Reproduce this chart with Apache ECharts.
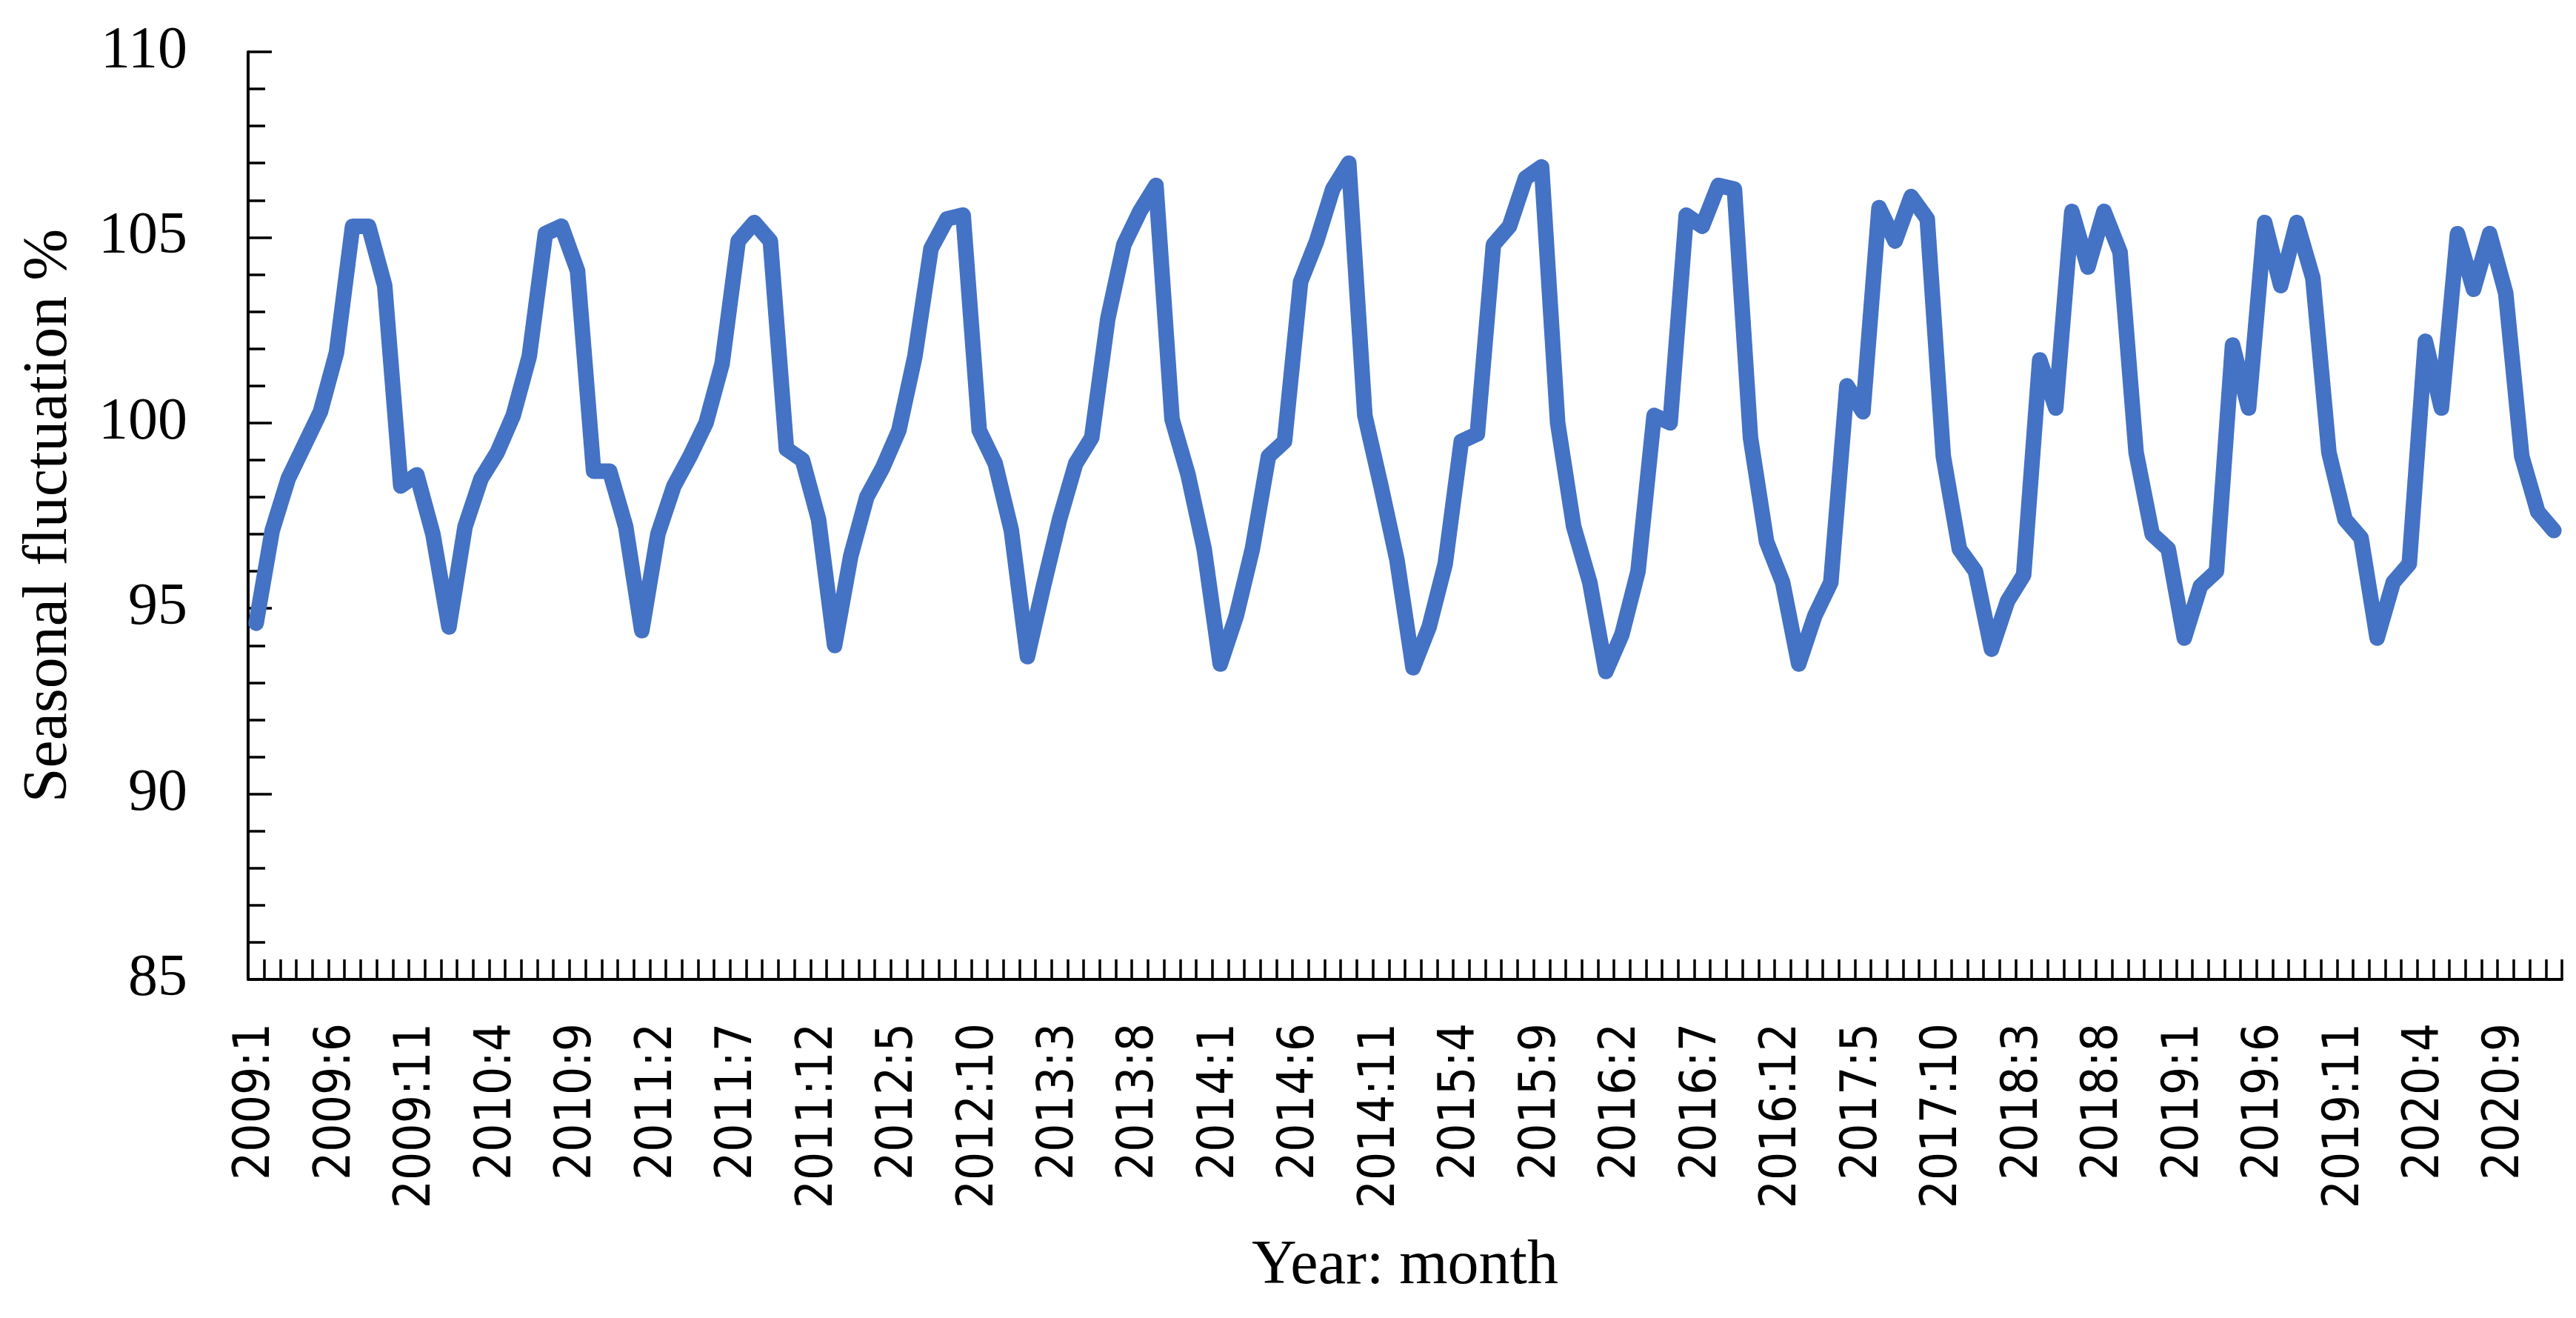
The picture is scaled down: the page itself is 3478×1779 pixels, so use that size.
<!DOCTYPE html>
<html>
<head>
<meta charset="utf-8">
<script src="https://cdn.jsdelivr.net/npm/echarts@6/dist/echarts.min.js"></script>
<style>
  html, body { margin: 0; padding: 0; background: #ffffff; }
  #chart { width: 3478px; height: 1779px; }
</style>
</head>
<body>
<div id="chart"></div>
<script>
// Monthly seasonal fluctuation (%)
const years = [2009, 2010, 2011, 2012, 2013, 2014, 2015, 2016, 2017, 2018, 2019, 2020];
const months = [1, 2, 3, 4, 5, 6, 7, 8, 9, 10, 11, 12];

const v2009 = [94.6, 97.1, 98.5, 99.4, 100.3, 101.9, 105.3, 105.3, 103.7, 98.3, 98.6, 97.0];
const v2010 = [94.5, 97.2, 98.5, 99.2, 100.2, 101.8, 105.1, 105.3, 104.1, 98.7, 98.7, 97.2];
const v2011 = [94.4, 97.0, 98.3, 99.1, 100.0, 101.6, 104.9, 105.4, 104.9, 99.3, 99.0, 97.4];
const v2012 = [94.0, 96.4, 98.0, 98.8, 99.8, 101.8, 104.7, 105.5, 105.6, 99.8, 98.9, 97.1];
const v2013 = [93.7, 95.6, 97.4, 98.9, 99.6, 102.8, 104.8, 105.7, 106.4, 100.1, 98.6, 96.6];
const v2014 = [93.5, 94.8, 96.6, 99.1, 99.5, 103.8, 104.9, 106.3, 107.0, 100.2, 98.3, 96.3];
const v2015 = [93.4, 94.5, 96.2, 99.5, 99.7, 104.8, 105.3, 106.6, 106.9, 100.0, 97.2, 95.7];
const v2016 = [93.3, 94.3, 96.0, 100.2, 100.0, 105.6, 105.3, 106.4, 106.3, 99.6, 96.8, 95.7];
const v2017 = [93.5, 94.8, 95.7, 101.0, 100.3, 105.8, 104.9, 106.1, 105.5, 99.1, 96.6, 96.0];
const v2018 = [93.9, 95.2, 95.9, 101.7, 100.4, 105.7, 104.2, 105.7, 104.6, 99.2, 97.0, 96.6];
const v2019 = [94.2, 95.6, 96.0, 102.1, 100.4, 105.4, 103.7, 105.4, 103.9, 99.2, 97.4, 96.9];
const v2020 = [94.2, 95.7, 96.2, 102.2, 100.4, 105.1, 103.6, 105.1, 103.5, 99.1, 97.6, 97.1];

const yTicks = [85, 90, 95, 100, 105, 110];

const categories = [];
years.forEach(y => months.forEach(m => categories.push(y + ':' + m)));
const values = [].concat(v2009, v2010, v2011, v2012, v2013, v2014, v2015, v2016, v2017, v2018, v2019, v2020);

const serif = "'Liberation Serif', 'DejaVu Serif', serif";
const sans = "'DejaVu Sans Condensed', 'DejaVu Sans', sans-serif";

const chart = echarts.init(document.getElementById('chart'), null, { renderer: 'canvas' });
chart.setOption({
  animation: false,
  backgroundColor: '#ffffff',
  grid: { left: 335, right: 19, top: 70, bottom: 457, containLabel: false },
  xAxis: {
    type: 'category',
    data: categories,
    boundaryGap: true,
    name: 'Year: month',
    nameLocation: 'middle',
    nameGap: 346,
    nameTextStyle: { fontFamily: serif, fontSize: 84, color: '#000' },
    axisLine: { show: true, lineStyle: { color: '#000', width: 4 } },
    axisTick: { show: true, interval: 0, inside: true, length: 27, alignWithLabel: false,
                lineStyle: { color: '#000', width: 3.5 } },
    axisLabel: { interval: 4, rotate: 90, margin: 59, fontSize: 67, fontFamily: sans, color: '#000' },
    splitLine: { show: false }
  },
  yAxis: {
    type: 'value',
    min: yTicks[0],
    max: yTicks[yTicks.length - 1],
    interval: 5,
    name: 'Seasonal fluctuation %',
    nameLocation: 'middle',
    nameGap: 226,
    nameRotate: 90,
    nameTextStyle: { fontFamily: serif, fontSize: 84, color: '#000' },
    axisLine: { show: true, lineStyle: { color: '#000', width: 4 } },
    axisTick: { show: true, inside: true, length: 32, lineStyle: { color: '#000', width: 3.5 } },
    minorTick: { show: true, splitNumber: 5, length: 23, lineStyle: { color: '#000', width: 3.5 } },
    axisLabel: { margin: 82, fontSize: 80, fontFamily: serif, color: '#000' },
    splitLine: { show: false }
  },
  series: [{
    type: 'line',
    data: values,
    symbol: 'none',
    smooth: false,
    lineStyle: { color: '#4472C4', width: 21, join: 'round', cap: 'round' }
  }]
});
</script>
</body>
</html>
